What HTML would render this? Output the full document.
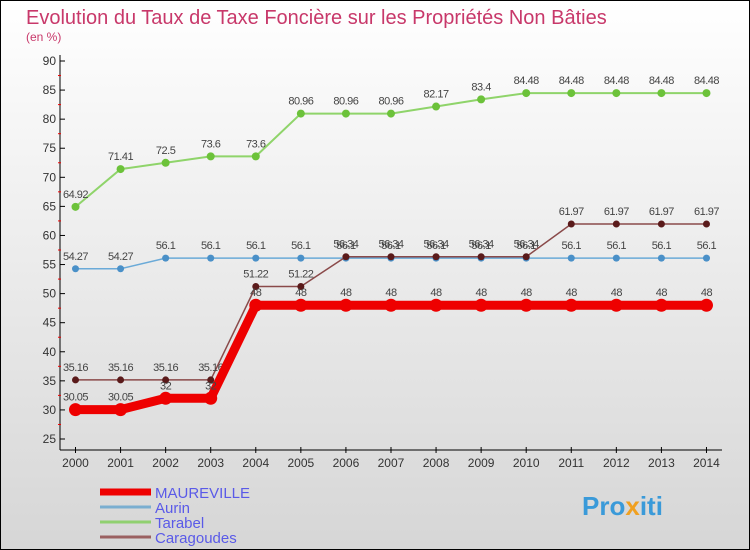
<!DOCTYPE html>
<html><head><meta charset="utf-8"><style>
body{margin:0}
#c{width:750px;height:550px;position:relative;overflow:hidden;font-family:"Liberation Sans",sans-serif}
</style></head><body>
<div id="c">
<svg id="s" width="750" height="550" xmlns="http://www.w3.org/2000/svg">
<defs><linearGradient id="bg" x1="0" y1="0" x2="0" y2="1"><stop offset="0" stop-color="#ffffff"/><stop offset="1" stop-color="#d6d6d6"/></linearGradient></defs>
<rect x="0.5" y="0.5" width="749" height="549" fill="url(#bg)" stroke="#000"/>
<text x="26" y="24" font-size="20" fill="#c8386a">Evolution du Taux de Taxe Foncière sur les Propriétés Non Bâties</text>
<text x="26" y="41" font-size="12" fill="#c8386a">(en %)</text>
<g id="axes"></g><g id="marks"></g><g id="legend"></g>
<text x="582" y="515" font-size="26" font-weight="bold" fill="#3a9ad9">Pro<tspan fill="#f0a020">x</tspan><tspan fill="#3a9ad9">iti</tspan></text>
</svg>
</div>
<script>
const years=[2000,2001,2002,2003,2004,2005,2006,2007,2008,2009,2010,2011,2012,2013,2014];
const maureville=[30.05,30.05,32,32,48,48,48,48,48,48,48,48,48,48,48];
const aurin=[54.27,54.27,56.1,56.1,56.1,56.1,56.1,56.1,56.1,56.1,56.1,56.1,56.1,56.1,56.1];
const tarabel=[64.92,71.41,72.5,73.6,73.6,80.96,80.96,80.96,82.17,83.4,84.48,84.48,84.48,84.48,84.48];
const caragoudes=[35.16,35.16,35.16,35.16,51.22,51.22,56.34,56.34,56.34,56.34,56.34,61.97,61.97,61.97,61.97];
const yTicks=[25,30,35,40,45,50,55,60,65,70,75,80,85,90];
const NS="http://www.w3.org/2000/svg";
const X=i=>75.5+i*45.07;
const Y=v=>439-(v-25)*(378/65);
function mk(t,a,p){const e=document.createElementNS(NS,t);for(const k in a)e.setAttribute(k,a[k]);p.appendChild(e);return e;}
const ax=document.getElementById('axes'),mg=document.getElementById('marks'),lg=document.getElementById('legend');
let l=mk('line',{x1:60,y1:55,x2:60,y2:450,stroke:'#000'},ax);


l=mk('line',{x1:60,y1:450,x2:722,y2:450,stroke:'#000'},ax);


yTicks.forEach((v,i)=>{const y=Y(v);
mk('line',{x1:60,y1:y,x2:65,y2:y,stroke:'#000'},ax);
if(i<yTicks.length-1)mk('line',{x1:58,y1:Y(v+2.5),x2:61,y2:Y(v+2.5),stroke:'#e00'},ax);
const t=mk('text',{x:56,y:y+4,'font-size':12,fill:'#333','text-anchor':'end'},ax);t.textContent=v;

});
years.forEach((yr,i)=>{const x=X(i);mk('line',{x1:x,y1:447,x2:x,y2:453,stroke:'#000'},ax);
const t=mk('text',{x:x,y:467,'font-size':12,fill:'#333','text-anchor':'middle'},ax);t.textContent=yr;

});
function series(d,col,w,r,dot,name){
const g=mk('g',{},mg);


mk('polyline',{points:d.map((v,i)=>X(i)+','+Y(v)).join(' '),fill:'none',stroke:col,'stroke-width':w},g);
d.forEach((v,i)=>{const c=mk('circle',{cx:X(i),cy:Y(v),r:r,fill:dot},g);


const t=mk('text',{x:X(i),y:Y(v)-9,'font-size':11,fill:'#444','text-anchor':'middle','letter-spacing':'-0.5'},g);t.textContent=v;

});}
series(tarabel,'#8fd46a',2,4,'#6cc23a','tarabel');
series(aurin,'#6aaad8',1.5,3.5,'#4a90c8','aurin');
series(caragoudes,'#8a4a4a',1.5,3.5,'#5a1a1a','caragoudes');
series(maureville,'#ee0000',9,6.5,'#ee0000','maureville');
const leg=[['MAUREVILLE','#ee0000',7],['Aurin','#7aaed0',3],['Tarabel','#90d070',3],['Caragoudes','#9a6060',3]];
leg.forEach((e,i)=>{const y=492+i*15;const g=mk('g',{},lg);


mk('line',{x1:100,y1:y,x2:151,y2:y,stroke:e[1],'stroke-width':e[2]},g);
const t=mk('text',{x:155,y:y+6,'font-size':15,fill:'#5a5ae8'},g);t.textContent=e[0];});
</script>
</body></html>
